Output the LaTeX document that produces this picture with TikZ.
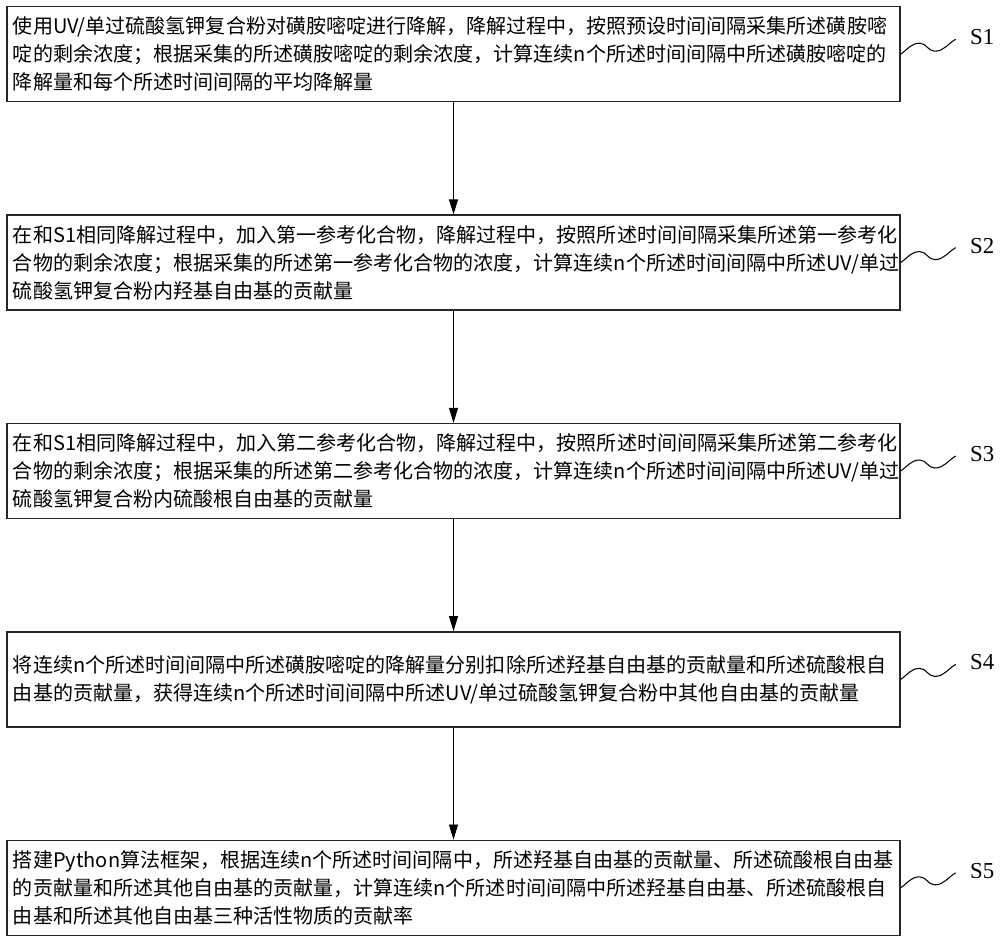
\documentclass[tikz,border=0pt]{standalone}
\usepackage{fontspec}
\newfontfamily\cjk{Noto Sans CJK SC}
\newfontfamily\labelfont{Liberation Serif}
\usetikzlibrary{positioning,arrows.meta}
\tikzset{stepbox/.style={draw=black!85,line width=0.8pt,text width=17.62cm,inner xsep=0.12cm,minimum height=1.9cm,align=left,font=\cjk\fontsize{11.4pt}{15.9pt}\selectfont},
	 steplabel/.style={inner sep=0pt,font=\labelfont\fontsize{13pt}{15pt}\selectfont},
	 node distance = 2.24cm
	 }

\begin{document}
\begin{tikzpicture}[>={Triangle[length=0.3cm,width=0.18cm]}]
        \useasboundingbox (0,0) rectangle (20,-18.74);
        \node[stepbox,anchor=north] (b1) at (9.07,-0.12) {使用UV/单过硫酸氢钾复合粉对磺胺嘧啶进行降解，降解过程中，按照预设时间间隔采集所述磺胺嘧\\啶的剩余浓度；根据采集的所述磺胺嘧啶的剩余浓度，计算连续n个所述时间间隔中所述磺胺嘧啶的\\降解量和每个所述时间间隔的平均降解量};
        \node[stepbox] (b2) [below=of b1] {在和S1相同降解过程中，加入第一参考化合物，降解过程中，按照所述时间间隔采集所述第一参考化\\合物的剩余浓度；根据采集的所述第一参考化合物的浓度，计算连续n个所述时间间隔中所述UV/单过\\硫酸氢钾复合粉内羟基自由基的贡献量};
        \node[stepbox] (b3) [below=of b2] {在和S1相同降解过程中，加入第二参考化合物，降解过程中，按照所述时间间隔采集所述第二参考化\\合物的剩余浓度；根据采集的所述第二参考化合物的浓度，计算连续n个所述时间间隔中所述UV/单过\\硫酸氢钾复合粉内硫酸根自由基的贡献量};
        \node[stepbox] (b4) [below=of b3] {将连续n个所述时间间隔中所述磺胺嘧啶的降解量分别扣除所述羟基自由基的贡献量和所述硫酸根自\\由基的贡献量，获得连续n个所述时间间隔中所述UV/单过硫酸氢钾复合粉中其他自由基的贡献量};
        \node[stepbox] (b5) [below=of b4] {搭建Python算法框架，根据连续n个所述时间间隔中，所述羟基自由基的贡献量、所述硫酸根自由基\\的贡献量和所述其他自由基的贡献量，计算连续n个所述时间间隔中所述羟基自由基、所述硫酸根自\\由基和所述其他自由基三种活性物质的贡献率};
        \draw[->] (b1) to (b2);
        \draw[->] (b2) to (b3);
        \draw[->] (b3) to (b4);
        \draw[->] (b4) to (b5);
        % step labels with wavy leaders
        \foreach \i in {1,...,5} {
          \node[steplabel] (l\i) [right=1.38cm of b\i.east, yshift=0.34cm] {S\i};
          \draw[line width=0.6pt] (b\i.east) to[out=35,in=180] ++(0.38,0.22) to[out=0,in=180] ++(0.3,-0.16) to[out=0,in=210] ++(0.42,0.24) coordinate (w\i);
        }
     \end{tikzpicture}
\end{document}
